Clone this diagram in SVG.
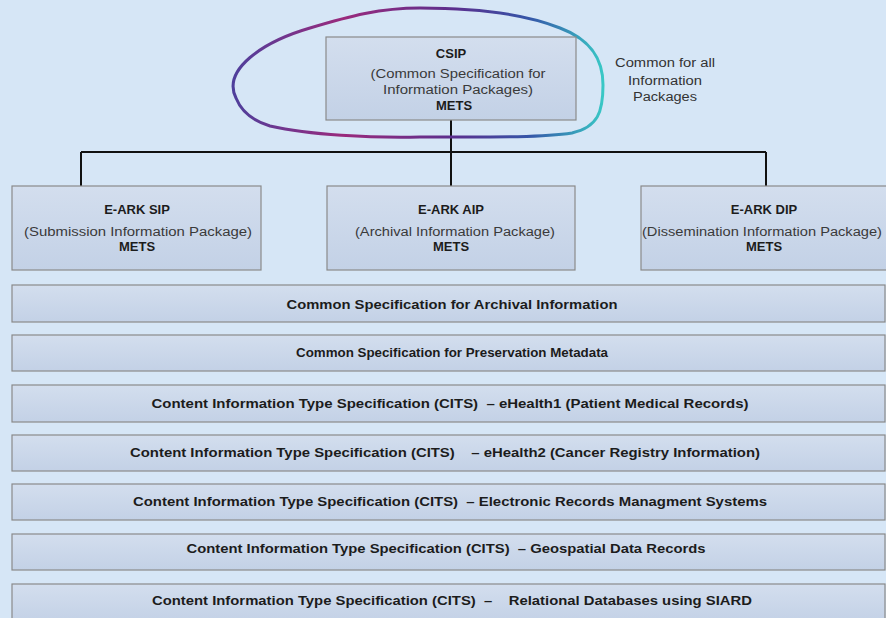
<svg xmlns="http://www.w3.org/2000/svg" width="886" height="618" viewBox="0 0 886 618">
<defs>
<linearGradient id="boxfill" x1="0" y1="0" x2="0" y2="1">
<stop offset="0" stop-color="#d3deee"/>
<stop offset="1" stop-color="#c3d1e6"/>
</linearGradient>
<linearGradient id="loop" x1="232" y1="0" x2="604" y2="0" gradientUnits="userSpaceOnUse">
<stop offset="0" stop-color="#4e3f9c"/>
<stop offset="0.3" stop-color="#9a2a7c"/>
<stop offset="0.6" stop-color="#5a2f8e"/>
<stop offset="0.8" stop-color="#3556a8"/>
<stop offset="1" stop-color="#39c9c6"/>
</linearGradient>
</defs>
<style>
.box{fill:url(#boxfill);stroke:#8a8a8a;stroke-width:1.2}
.t{font-family:"Liberation Sans",Arial,sans-serif;text-anchor:middle}
.b{font-weight:bold;font-size:13px;fill:#1c1c1c}
.r{font-size:12px;fill:#3a3a3a}
.row{font-family:"Liberation Sans",Arial,sans-serif;fill:#1c1c1c;text-anchor:middle;font-weight:bold;font-size:12px}
.note{font-family:"Liberation Sans",Arial,sans-serif;fill:#333;text-anchor:middle;font-size:12px}
.conn{stroke:#111;stroke-width:2;fill:none}
</style>
<rect width="886" height="618" fill="#d6e6f6"/>

<g id="connectors">
<path class="conn" d="M451 120 V152 M81 152 H766 M81 152 V186 M451 152 V186 M766 152 V186"/>
</g>

<g id="loop-highlight">
<path d="M236 98 C222 70 262 42 310 28 C350 16 380 8 420 8 C470 8 520 12 560 28 C592 40 603 60 603 85 C603 112 598 127 572 133 C540 138 480 137 420 137 C370 138 310 135 270 126 C250 120 240 108 236 98 Z" fill="none" stroke="url(#loop)" stroke-width="3"/>
</g>

<g id="csip">
<rect class="box" x="326" y="37" width="250" height="83"/>
<text class="t b" x="451" y="58">CSIP</text>
<text class="t r" x="458" y="78" textLength="175" lengthAdjust="spacingAndGlyphs">(Common Specification for</text>
<text class="t r" x="458" y="94" textLength="150" lengthAdjust="spacingAndGlyphs">Information Packages)</text>
<text class="t b" x="454" y="110">METS</text>
</g>

<g id="note">
<text class="note" x="665" y="67" textLength="100" lengthAdjust="spacingAndGlyphs">Common for all</text>
<text class="note" x="665" y="85" textLength="74" lengthAdjust="spacingAndGlyphs">Information</text>
<text class="note" x="665" y="101" textLength="64" lengthAdjust="spacingAndGlyphs">Packages</text>
</g>

<g id="sip">
<rect class="box" x="12" y="186" width="249" height="84"/>
<text class="t b" x="137" y="214">E-ARK SIP</text>
<text class="t r" x="138" y="236" textLength="228" lengthAdjust="spacingAndGlyphs">(Submission Information Package)</text>
<text class="t b" x="137" y="251">METS</text>
</g>

<g id="aip">
<rect class="box" x="327" y="186" width="248" height="84"/>
<text class="t b" x="451" y="214">E-ARK AIP</text>
<text class="t r" x="455" y="236" textLength="200" lengthAdjust="spacingAndGlyphs">(Archival Information Package)</text>
<text class="t b" x="451" y="251">METS</text>
</g>

<g id="dip">
<rect class="box" x="641" y="186" width="250" height="84"/>
<text class="t b" x="764" y="214">E-ARK DIP</text>
<text class="t r" x="762" y="236" textLength="240" lengthAdjust="spacingAndGlyphs">(Dissemination Information Package)</text>
<text class="t b" x="764" y="251">METS</text>
</g>

<g id="row1">
<rect class="box" x="12" y="285" width="873" height="37"/>
<text class="row" x="452" y="309" textLength="331" lengthAdjust="spacingAndGlyphs">Common Specification for Archival Information</text>
</g>
<g id="row2">
<rect class="box" x="12" y="335" width="873" height="36"/>
<text class="row" x="452" y="357" textLength="312" lengthAdjust="spacingAndGlyphs">Common Specification for Preservation Metadata</text>
</g>
<g id="row3">
<rect class="box" x="12" y="385" width="873" height="37"/>
<text class="row" x="450" y="408" textLength="597" lengthAdjust="spacingAndGlyphs" xml:space="preserve">Content Information Type Specification (CITS)  – eHealth1 (Patient Medical Records)</text>
</g>
<g id="row4">
<rect class="box" x="12" y="435" width="873" height="36"/>
<text class="row" x="445" y="457" textLength="630" lengthAdjust="spacingAndGlyphs" xml:space="preserve">Content Information Type Specification (CITS)    – eHealth2 (Cancer Registry Information)</text>
</g>
<g id="row5">
<rect class="box" x="12" y="484" width="873" height="36"/>
<text class="row" x="450" y="506" textLength="634" lengthAdjust="spacingAndGlyphs" xml:space="preserve">Content Information Type Specification (CITS)  – Electronic Records Managment Systems</text>
</g>
<g id="row6">
<rect class="box" x="12" y="534" width="873" height="36"/>
<text class="row" x="446" y="553" textLength="519" lengthAdjust="spacingAndGlyphs" xml:space="preserve">Content Information Type Specification (CITS)  – Geospatial Data Records</text>
</g>
<g id="row7">
<rect class="box" x="12" y="584" width="873" height="38"/>
<text class="row" x="452" y="605" textLength="600" lengthAdjust="spacingAndGlyphs" xml:space="preserve">Content Information Type Specification (CITS)  –    Relational Databases using SIARD</text>
</g>
</svg>
